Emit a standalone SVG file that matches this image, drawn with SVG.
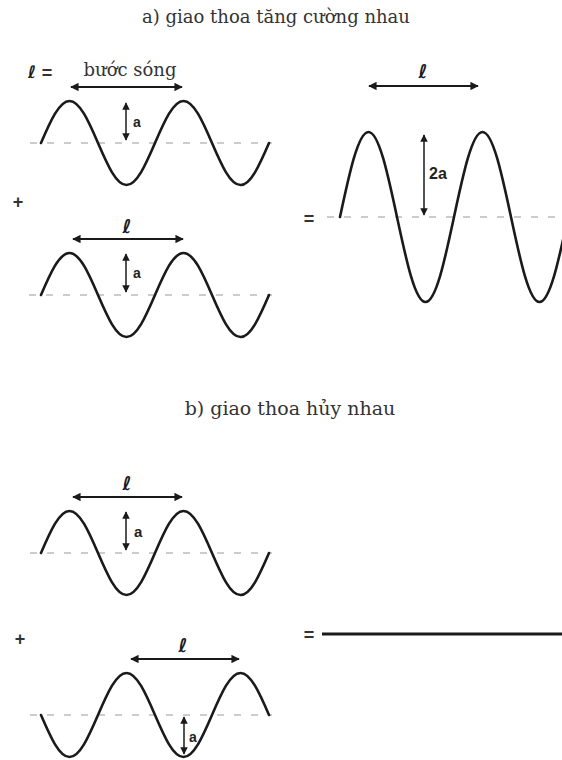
<svg xmlns="http://www.w3.org/2000/svg" width="562" height="760" viewBox="0 0 562 760">
<style>
.title{font-family:"DejaVu Serif","Liberation Serif",serif;font-size:18px;fill:#333;text-anchor:middle}
.wave{fill:none;stroke:#1a1a1a;stroke-width:2.6;stroke-linecap:round;stroke-linejoin:round}
.base{fill:none;stroke:#9a9a9a;stroke-width:1.2;stroke-dasharray:7 10}
.arr{fill:none;stroke:#1a1a1a;stroke-width:2;marker-start:url(#ah);marker-end:url(#ah)}
.varr{fill:none;stroke:#1a1a1a;stroke-width:1.5;marker-start:url(#ahs);marker-end:url(#ahs)}
.ell{font-family:"DejaVu Sans",sans-serif;font-size:19px;font-weight:bold;font-style:italic;fill:#1a1a1a;text-anchor:middle}
.lbl{font-family:"Liberation Sans",sans-serif;font-size:16px;font-weight:bold;fill:#222}
.sym{font-family:"Liberation Sans",sans-serif;font-size:18px;font-weight:bold;fill:#333;text-anchor:middle}
.flat{fill:none;stroke:#1a1a1a;stroke-width:3}
</style>
<defs>
<marker id="ah" viewBox="0 0 10 10" refX="9" refY="5" markerWidth="5.5" markerHeight="4.2" orient="auto-start-reverse" markerUnits="strokeWidth"><path d="M0,0 L10,5 L0,10 Z" fill="#1a1a1a"/></marker>
<marker id="ahs" viewBox="0 0 10 10" refX="9" refY="5" markerWidth="5.5" markerHeight="5" orient="auto-start-reverse" markerUnits="strokeWidth"><path d="M0,0 L10,5 L0,10 Z" fill="#1a1a1a"/></marker>
</defs>
<text class="title" x="276" y="23">a) giao thoa tăng cường nhau</text>
<text class="title" x="290" y="415" style="font-size:19px">b) giao thoa hủy nhau</text>
<g id="wave-a1">
<line class="base" x1="30" y1="143" x2="272" y2="143"/>
<path class="wave" d="M41,143 c9.29,-21.52 18.19,-42 28.5,-42 s19.21,20.48 28.5,42 s18.19,42 28.5,42 s19.21,-20.48 28.5,-42 s18.19,-42 28.5,-42 s19.21,20.48 28.5,42 s18.19,42 28.5,42 s19.21,-20.48 28.5,-42"/>
<text class="ell" x="32" y="78" style="font-size:17px">ℓ</text>
<text class="sym" x="47" y="79">=</text>
<text class="title" x="130" y="76">bước sóng</text>
<line class="arr" x1="71" y1="87" x2="182" y2="87"/>
<line class="varr" x1="126" y1="103" x2="126" y2="140"/>
<text class="lbl" x="133" y="127" style="font-size:14px">a</text>
</g>
<text id="plus-a" class="sym" x="18" y="208">+</text>
<g id="wave-a2">
<line class="base" x1="29" y1="295" x2="272" y2="295"/>
<path class="wave" d="M41,295 c9.29,-21.52 18.19,-42 28.5,-42 s19.21,20.48 28.5,42 s18.19,42 28.5,42 s19.21,-20.48 28.5,-42 s18.19,-42 28.5,-42 s19.21,20.48 28.5,42 s18.19,42 28.5,42 s19.21,-20.48 28.5,-42"/>
<text class="ell" x="127" y="233">ℓ</text>
<line class="arr" x1="73" y1="239" x2="183" y2="239"/>
<line class="varr" x1="126" y1="254" x2="126" y2="292"/>
<text class="lbl" x="133" y="278" style="font-size:14px">a</text>
</g>
<text id="eq-a" class="sym" x="309" y="225">=</text>
<g id="wave-a-sum">
<line class="base" x1="327" y1="217" x2="562" y2="217"/>
<path class="wave" d="M340,217 c9.29,-43.55 18.19,-85 28.5,-85 s19.21,41.45 28.5,85 s18.19,85 28.5,85 s19.21,-41.45 28.5,-85 s18.19,-85 28.5,-85 s19.21,41.45 28.5,85 s18.19,85 28.5,85 s19.21,-41.45 28.5,-85"/>
<text class="ell" x="423" y="78">ℓ</text>
<line class="arr" x1="369" y1="86" x2="478" y2="86"/>
<line class="varr" x1="424" y1="135" x2="424" y2="215"/>
<text class="lbl" x="429" y="179">2a</text>
</g>
<g id="wave-b1">
<line class="base" x1="30" y1="553" x2="272" y2="553"/>
<path class="wave" d="M41,553 c9.29,-21.52 18.19,-42 28.5,-42 s19.21,20.48 28.5,42 s18.19,42 28.5,42 s19.21,-20.48 28.5,-42 s18.19,-42 28.5,-42 s19.21,20.48 28.5,42 s18.19,42 28.5,42 s19.21,-20.48 28.5,-42"/>
<text class="ell" x="127" y="490">ℓ</text>
<line class="arr" x1="73" y1="497" x2="182" y2="497"/>
<line class="varr" x1="126" y1="512" x2="126" y2="550"/>
<text class="lbl" x="134" y="537" style="font-size:15px">a</text>
</g>
<text id="plus-b" class="sym" x="20" y="645">+</text>
<g id="wave-b2">
<line class="base" x1="30" y1="715" x2="272" y2="715"/>
<path class="wave" d="M41,715 c9.29,21.52 18.19,42 28.5,42 s19.21,-20.48 28.5,-42 s18.19,-42 28.5,-42 s19.21,20.48 28.5,42 s18.19,42 28.5,42 s19.21,-20.48 28.5,-42 s18.19,-42 28.5,-42 s19.21,20.48 28.5,42"/>
<text class="ell" x="183" y="652">ℓ</text>
<line class="arr" x1="131" y1="659" x2="239" y2="659"/>
<line class="varr" x1="184" y1="717" x2="184" y2="754"/>
<text class="lbl" x="189" y="742" style="font-size:14px">a</text>
</g>
<g id="result-b">
<text class="sym" x="309" y="641">=</text>
<line class="flat" x1="322" y1="634" x2="562" y2="634"/>
</g>
</svg>
